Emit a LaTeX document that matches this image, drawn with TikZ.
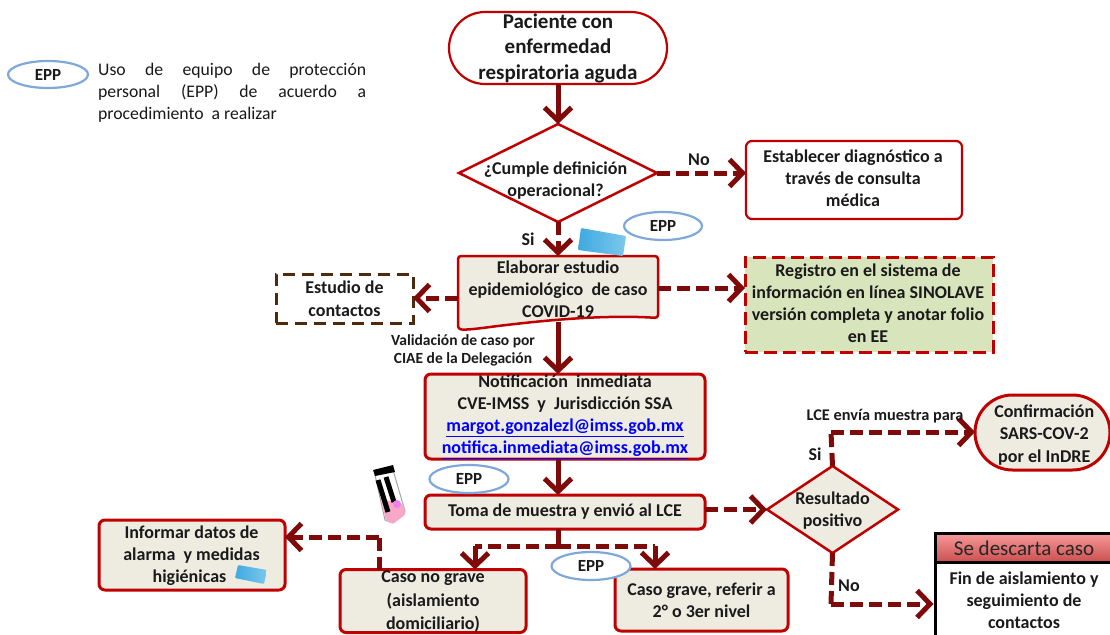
\documentclass[tikz,border=0pt]{standalone}
\usepackage{fontspec}
\setmainfont{Carlito}
\usetikzlibrary{arrows.meta,shapes.geometric,shapes.misc}
\definecolor{rojo}{HTML}{C00000}
\definecolor{vino}{HTML}{7F0A0A}
\definecolor{crema}{HTML}{EEECE1}
\definecolor{verde}{HTML}{D7E4BC}
\definecolor{cafe}{HTML}{4F2A0C}
\definecolor{azul}{HTML}{7FA8DA}
\definecolor{tinta}{HTML}{1A1A1A}
\definecolor{masca}{HTML}{3FA9E0}
\definecolor{mascb}{HTML}{7CC8EC}
\definecolor{rosa}{HTML}{F7A8C8}
\definecolor{rosb}{HTML}{F080F0}
\definecolor{rojoA}{HTML}{F79A9A}
\definecolor{rojoB}{HTML}{C84A4A}
\newcommand{\ztxt}[3]{\smash{\hspace*{#1}\makebox[0pt][c]{\raisebox{#2}{\begin{tabular}[c]{@{}c@{}}#3\end{tabular}}}}}
\newcommand{\lnk}[1]{\textcolor{blue}{\underline{#1}}}
\tikzset{
  x=1pt,y=-1pt,
  base/.style={font=\fontsize{18}{22}\selectfont\bfseries,text=tinta,align=center,inner sep=0pt,outer sep=0pt},
  caja/.style={base,rectangle,rounded corners=6pt,draw=rojo,line width=2.2pt},
  cajaF/.style={caja,line width=3pt,fill=crema},
  fin/.style={base,rounded rectangle,rounded rectangle arc length=180,draw=rojo,line width=2.2pt},
  rombo/.style={diamond,draw=rojo,line width=2.5pt,inner sep=0pt,outer sep=0pt,base},
  epp/.style={ellipse,draw=azul,line width=2.2pt,fill=white,base,font=\fontsize{17}{18}\selectfont\bfseries,inner sep=0pt},
  flecha/.style={draw=vino,line width=5pt,-{Straight Barb[length=13pt,width=27pt,line width=5pt]}},
  rayas/.style={flecha,dash pattern=on 13pt off 6pt},
  linea/.style={draw=vino,line width=5pt,dash pattern=on 13pt off 6pt},
  etiqueta/.style={base,font=\fontsize{18}{18}\selectfont\bfseries}
}
\begin{document}
\begin{tikzpicture}
\clip (0,0) rectangle (1110,634);
\fill[white] (0,0) rectangle (1110,634);
% leyenda
\node[epp,minimum width=80pt,minimum height=27pt] (e0) at (48,74.5) {EPP};
\node[font=\fontsize{17.7}{22}\selectfont,text=black!90,anchor=north west,inner sep=0pt,align=left] (ley) at (98,63)
 {\makebox[268pt][s]{Uso de equipo de protección}\\\makebox[268pt][s]{personal (EPP) de acuerdo a}\\procedimiento~ a realizar};
% nodos
\node[fin,minimum width=218pt,minimum height=72pt,font=\fontsize{21}{25.5}\selectfont\bfseries] (ini) at (558,48) {Paciente con\\enfermedad\\respiratoria aguda};
\node[rombo,minimum width=198pt,minimum height=98pt] (d1) at (558,173) {\ztxt{-5pt}{-12.5pt}{¿Cumple definición\\operacional?}};
\node[caja,minimum width=216pt,minimum height=78pt] (dx) at (854,180) {\ztxt{-2pt}{-4.5pt}{Establecer diagnóstico a\\través de consulta\\médica}};
% elaborar: forma de documento
\fill[crema,draw=rojo,line width=2.5pt,rounded corners=3pt] (458,256) -- (658,256) -- (658,318)
  .. controls (600,314) and (530,322) .. (490,327) .. controls (475,329) and (465,330) .. (458,329) -- cycle;
\node[base,minimum width=200pt,minimum height=66pt] (el) at (558,289) {Elaborar estudio\\epidemiológico~ de caso\\COVID-19};
\node[base,rectangle,draw=rojo,dash pattern=on 13pt off 6pt,line width=3pt,fill=verde,minimum width=248pt,minimum height=95pt] (reg) at (869,304.5) {\ztxt{-2pt}{-5pt}{Registro en el sistema de\\información en línea SINOLAVE\\versión completa y anotar folio\\en EE}};
\node[base,rectangle,draw=cafe,dash pattern=on 12pt off 7pt,line width=3pt,minimum width=137pt,minimum height=49pt,font=\fontsize{18}{23}\selectfont\bfseries] (est) at (344.5,298.5) {Estudio de\\contactos};
\node[cajaF,minimum width=280pt,minimum height=85pt] (not) at (565,416.5) {Notificación~ inmediata\\CVE-IMSS~ y~ Jurisdicción SSA\\\lnk{margot.gonzalezl@imss.gob.mx}\\\lnk{notifica.inmediata@imss.gob.mx}};
\node[cajaF,minimum width=280pt,minimum height=34pt] (toma) at (565,512) {Toma de muestra y envió al LCE};
\node[cajaF,minimum width=186pt,minimum height=70pt] (inf) at (192,555) {\ztxt{-1pt}{-5.5pt}{Informar datos de\\alarma~ y medidas\\higiénicas \hspace{36pt}}};
\node[cajaF,minimum width=186pt,minimum height=63pt,font=\fontsize{18}{23.5}\selectfont\bfseries] (ng) at (433,601) {\ztxt{0pt}{-5pt}{Caso no grave\\(aislamiento\\domiciliario)}};
\node[cajaF,minimum width=173pt,minimum height=62pt] (gr) at (701.5,600) {Caso grave, referir a\\2° o 3er nivel};
\node[rombo,fill=crema,minimum width=131pt,minimum height=87pt] (d2) at (832.5,509.5) {\ztxt{0pt}{-5.5pt}{Resultado\\positivo}};
\node[fin,fill=crema,draw=rojo,line width=3pt,minimum width=135pt,minimum height=75pt,font=\fontsize{18}{22.5}\selectfont\bfseries] (conf) at (1042.5,432.5) {\ztxt{3.5pt}{-7pt}{Confirmación\\SARS-COV-2\\por el InDRE}};
\node[rectangle,draw=black,line width=3pt,top color=rojoA,bottom color=rojoB,minimum width=178pt,minimum height=31pt,inner sep=0pt,font=\fontsize{21}{22}\selectfont,text=black!85] (desc) at (1024,548.5) {Se descarta caso};
\node[base,rectangle,draw=black,line width=3pt,fill=white,minimum width=178pt,minimum height=76pt] (fin) at (1024,600) {Fin de aislamiento y\\seguimiento de\\contactos};
% EPP
\node[epp,minimum width=78pt,minimum height=28pt] (e1) at (663,226) {EPP};
\node[epp,minimum width=79pt,minimum height=28pt] (e2) at (469,479) {EPP};
\node[epp,minimum width=79pt,minimum height=28pt] (e3) at (591,566) {EPP};
% cubrebocas
\shade[left color=masca,right color=mascb,rounded corners=1pt] (581,228) -- (626,236) -- (623,256) -- (578,250) -- cycle;
\shade[left color=masca,right color=mascb,rounded corners=1pt] (238,565) -- (267,570) -- (264,584) -- (235,578) -- cycle;
% tubo
\fill[white,draw=black!35,line width=1pt] (375,475) -- (393,470) -- (405,511) -- (393,523) -- (385,520) -- cycle;
\fill[rosa,rounded corners=2pt] (381,499) -- (403,504) -- (406,514) -- (393,524) -- (386,521) -- cycle;
\fill[black] (373,470) -- (393,465) -- (395,472) -- (375,476) -- cycle;
\draw[black,line width=5pt] (378,480) -- (388,512) (386,477) -- (394,502);
\fill[rosb] (397,504) circle (4pt);
% coordenadas libres
\coordinate (c1) at (831,432);
\coordinate (c2) at (831,604);
\coordinate (c3) at (558,546);
\coordinate (c4) at (475,546);
\coordinate (c5) at (655,546);
\coordinate (c6) at (379,537);
% conectores
\path[flecha] (ini.south) -- (d1.north);
\path[rayas] (d1.east) -- (dx.west |- d1.east);
\path[rayas] (d1.south) -- (el.north);
\path[rayas] (el.east |- 0,288) -- (reg.west |- 0,288);
\path[rayas] (el.west |- 0,298) -- (est.east |- 0,298);
\path[flecha] (el.south) -- (not.north -| el.south);
\path[flecha] (not.south -| el.south) -- (toma.north -| el.south);
\path[rayas] (toma.east |- d2.west) -- (d2.west);
\path[linea] (d2.north) -- (c1);
\path[rayas] (c1) -- (conf.west |- c1);
\path[linea] (d2.south) -- (c2);
\path[rayas] (c2) -- (desc.west |- c2);
\draw[draw=vino,line width=5pt] (toma.south -| c3) -- (c3);
\path[linea] (c3) -- (c4);
\path[linea] (c3) -- (c5);
\path[flecha] (c4) -- (c4 |- ng.north);
\path[flecha] (c5) -- (c5 |- gr.north);
\path[linea] (c6 |- ng.north) -- (c6);
\path[rayas] (c6) -- (inf.east |- c6);
% etiquetas
\node[etiqueta] (no1) at (699,160) {No};
\node[etiqueta] (si1) at (528,239) {Si};
\node[etiqueta,font=\fontsize{15.5}{18}\selectfont\bfseries] (val) at (463,350) {Validación de caso por\\CIAE de la Delegación};
\node[etiqueta,font=\fontsize{16.3}{18}\selectfont\bfseries] (lce) at (885,416) {LCE envía muestra para};
\node[etiqueta] (si2) at (815,454) {Si};
\node[etiqueta] (no2) at (849,586) {No};
\end{tikzpicture}
\end{document}
